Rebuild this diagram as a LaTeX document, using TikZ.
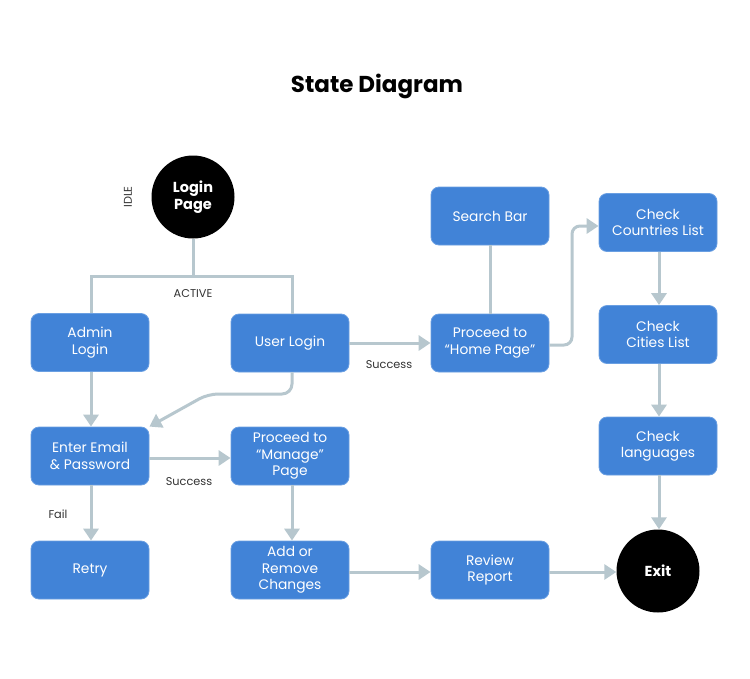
\documentclass[tikz,border=0pt]{standalone}
\usepackage{fontspec}
\setmainfont{Poppins}
\usetikzlibrary{arrows.meta,positioning}
\definecolor{boxblue}{HTML}{4183D7}
\definecolor{boxedge}{HTML}{6A9FE2}
\definecolor{conn}{HTML}{B7C7CE}
\definecolor{lbl}{HTML}{333333}
\begin{document}
\begin{tikzpicture}[x=1pt,y=-1pt,
  state/.style={draw=boxedge,line width=0.8pt,fill=boxblue,rounded corners=8pt,
    minimum width=118pt,minimum height=58pt,text=white,align=center,inner sep=2pt,
    font=\fontsize{13.8}{16.5}\selectfont},
  term/.style={circle,fill=black,minimum size=83pt,inner sep=0pt,text=white,align=center,
    font=\bfseries\fontsize{14.5}{17}\selectfont},
  conline/.style={draw=conn,line width=3pt},
  arr/.style={conline,-{Triangle[length=12pt,width=15pt]}},
  lab/.style={text=lbl,font=\fontsize{11.3}{13}\selectfont}]
\useasboundingbox (0,0) rectangle (750,678);
\fill[white] (0,0) rectangle (750,678);
\node[font=\bfseries\fontsize{23}{26}\selectfont] (title) at (377,86) {State Diagram};
\node[term] (login) at (193,197) {Login\\Page};
\node[lab,rotate=90] (idle) at (128,197) {IDLE};
\node[state] (admin) at (90,342.5) {Admin\\Login};
\node[state] (user) at (290,343) {User Login};
\node[state] (search) at (490,216) {Search Bar};
\node[state] (home) at (490,343) {Proceed to\\“Home Page”};
\node[state] (countries) at (658,222.5) {Check\\Countries List};
\node[state] (cities) at (658,334.5) {Check\\Cities List};
\node[state] (lang) at (658,446) {Check\\languages};
\node[state] (email) at (90,456) {Enter Email\\\& Password};
\node[state] (manage) at (290,456) {Proceed to\\“Manage”\\Page};
\node[state] (retry) at (90,570) {Retry};
\node[state] (addrem) at (290,570) {Add or\\Remove\\Changes};
\node[state] (review) at (490,570) {Review\\Report};
\node[term] (exit) at (658,571) {Exit};
\coordinate (split) at (193,276);
% connectors
\draw[conline] (login.south) -- (split);
\draw[conline] (split) -| ([xshift=1pt]admin.north);
\draw[conline] (split) -| ([xshift=2pt]user.north);
\node[lab] (active) at (193,294) {ACTIVE};
\draw[arr] ([xshift=1pt]admin.south) -- ([xshift=1pt]email.north);
\draw[arr,rounded corners=10pt] ([xshift=2pt]user.south) -- (292,394) -- (208,394) -- (email.north east);
\draw[arr] ([yshift=-2pt]email.east) -- ([yshift=-2pt]manage.west);
\node[lab] (succ1) at (189,482) {Success};
\draw[arr] ([xshift=1pt]email.south) -- ([xshift=1pt]retry.north);
\node[lab] (fail) at (58,514) {Fail};
\draw[arr] ([xshift=2pt]manage.south) -- ([xshift=2pt]addrem.north);
\draw[arr] ([yshift=-2pt]addrem.east) -- ([yshift=-2pt]review.west);
\draw[arr] ([yshift=-2pt]review.east) -- ([yshift=-1pt]exit.west);
\draw[arr] (user.east) -- (home.west);
\node[lab] (succ2) at (389,365) {Success};
\draw[conline] (search.south) -- (home.north);
\draw[arr,rounded corners=8pt] ([yshift=-2pt]home.east) -- (572,345) -- (572,226) -- ([yshift=-3.5pt]countries.west);
\draw[arr] ([xshift=1pt]countries.south) -- ([xshift=1pt]cities.north);
\draw[arr] ([xshift=1pt]cities.south) -- ([xshift=1pt]lang.north);
\draw[arr] ([xshift=1pt]lang.south) -- ([xshift=1pt]exit.north);
\end{tikzpicture}
\end{document}
